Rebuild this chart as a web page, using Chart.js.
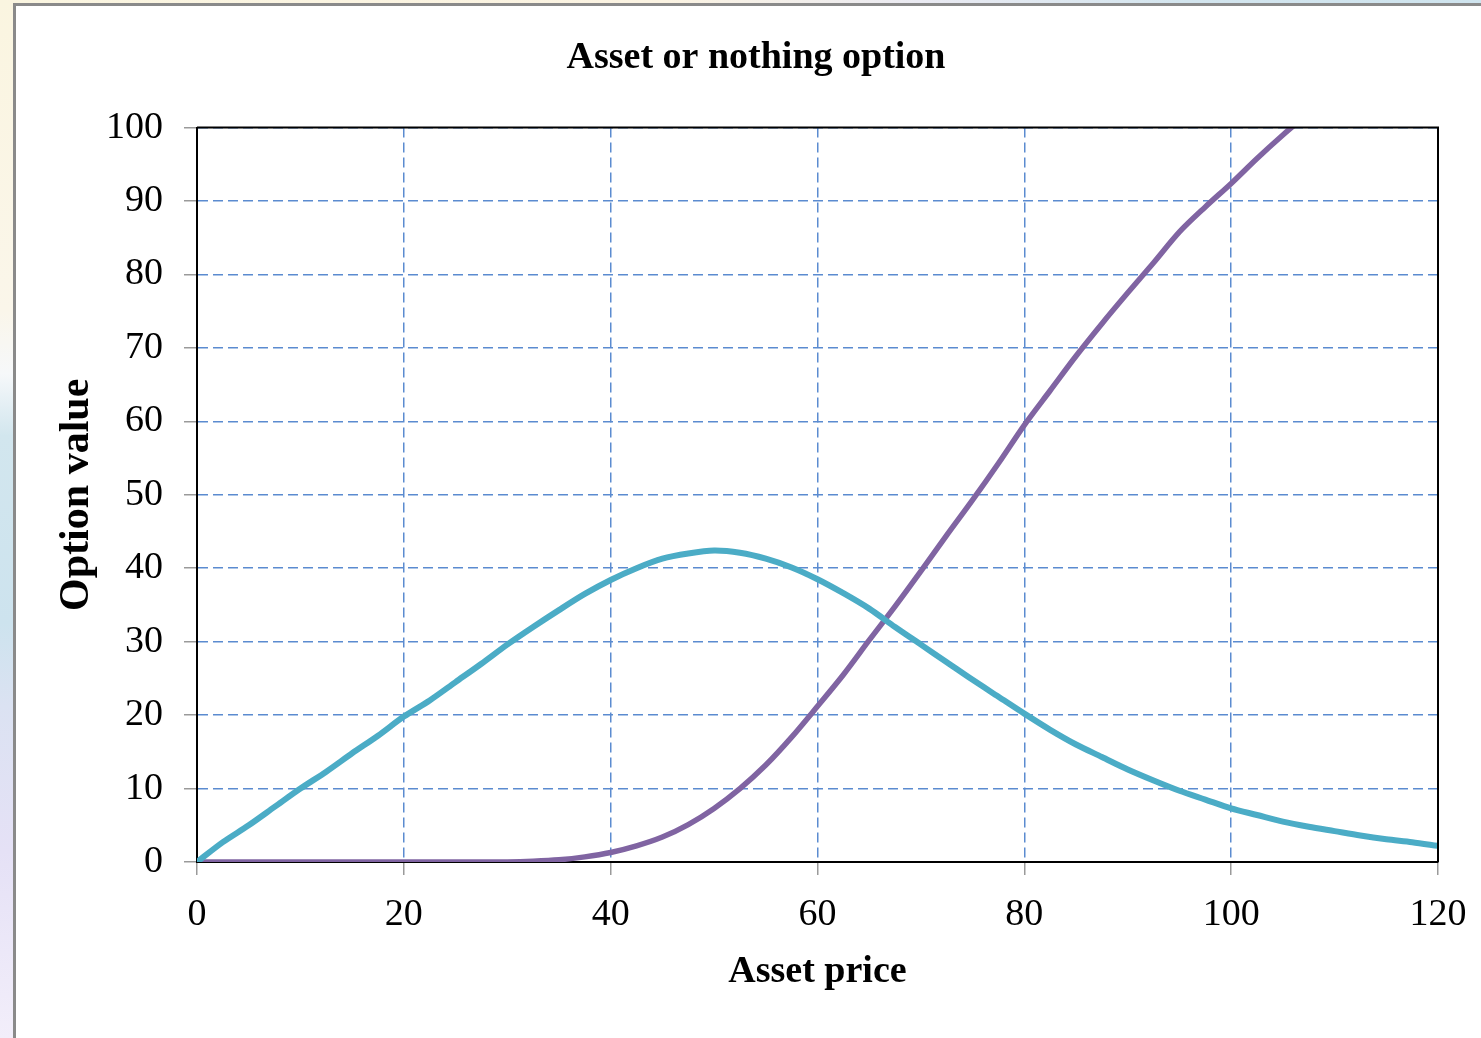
<!DOCTYPE html>
<html>
<head>
<meta charset="utf-8">
<script src="https://cdn.jsdelivr.net/npm/chart.js@4/dist/chart.umd.min.js"></script>
<style>
  html, body {
    margin: 0;
    width: 1481px;
    height: 1038px;
    overflow: hidden;
  }
  body {
    position: relative;
    background: linear-gradient(to bottom, #faf5e0 0%, #faf6ea 30%, #f6f8fa 36%, #d2e6ee 42%, #cde3ee 60%, #dbe2f2 68%, #e5e1f6 82%, #f2eefa 100%);
  }
  #topStrip {
    position: absolute;
    left: 0;
    top: 0;
    width: 1481px;
    height: 4px;
    background: linear-gradient(to right, #faf5e0 0%, #fbf3e2 45%, #eaeaf2 62%, #d3e5ee 80%, #cfe4ee 100%);
  }
  #frame {
    position: absolute;
    left: 13px;
    top: 3px;
    width: 1490px;
    height: 1060px;
    border: 3px solid #8a8a8a;
    background: #ffffff;
  }
  #chart {
    position: absolute;
    left: 0;
    top: 0;
  }
</style>
</head>
<body>
<div id="topStrip"></div>
<div id="frame"></div>
<canvas id="chart" width="1481" height="1038"></canvas>
<script>
// ASSET OR NOTHING OPTION

const assetPrice = [
  0, 2.5, 5, 7.5, 10, 12.5, 15, 17.5, 20, 22.5, 25, 27.5, 30, 32.5, 35, 37.5,
  40, 42.5, 45, 47.5, 50, 52.5, 55, 57.5, 60, 62.5, 65, 67.5, 70, 72.5, 75,
  77.5, 80, 82.5, 85, 87.5, 90, 92.5, 95, 97.5, 100, 102.5, 105, 107.5, 110,
  112.5, 115, 117.5, 120,
];

// option value (purple)
const optionValue = [
  0, 0, 0, 0, 0, 0, 0, 0, 0, 0, 0, 0, 0, 0.1, 0.3, 0.7,
  1.3, 2.2, 3.4, 5.1, 7.3, 10, 13.2, 17, 21.2, 25.5, 30.2, 34.8, 39.6, 44.5, 49.3,
  54.3, 59.5, 64.2, 68.9, 73.3, 77.5, 81.6, 85.8, 89.2, 92.4, 95.8, 99, 102, 105,
];

// scaled delta (teal)
const deltaCurve = [
  0, 2.7, 5, 7.5, 10, 12.3, 14.8, 17.2, 19.8, 22, 24.5, 27, 29.6, 32, 34.3, 36.5,
  38.4, 40, 41.3, 42, 42.4, 42.1, 41.3, 40.1, 38.5, 36.6, 34.5, 32, 29.6, 27.2, 24.8,
  22.5, 20.2, 18, 16, 14.3, 12.6, 11.1, 9.7, 8.5, 7.3, 6.4, 5.5, 4.8, 4.2,
  3.6, 3.1, 2.7, 2.2,
];

const xTicks = [0, 20, 40, 60, 80, 100, 120];
const yTicks = [0, 10, 20, 30, 40, 50, 60, 70, 80, 90, 100];

const toPoints = (ys) => ys.map((y, i) => ({ x: assetPrice[i], y: y }));

const serif = "'Liberation Serif', 'Times New Roman', serif";

// closes the plot box on the top and right sides
const plotFrame = {
  id: "plotFrame",
  afterDraw(chart) {
    const { ctx, chartArea } = chart;
    ctx.save();
    ctx.strokeStyle = "#000";
    ctx.lineWidth = 2;
    ctx.beginPath();
    ctx.moveTo(chartArea.left, chartArea.top);
    ctx.lineTo(chartArea.right, chartArea.top);
    ctx.lineTo(chartArea.right, chartArea.bottom);
    ctx.stroke();
    ctx.restore();
  },
};

const gridOpts = {
  color: "#5b8bd0",
  lineWidth: 1.5,
  tickColor: "#9a9a9a",
  tickLength: 13,
  tickWidth: 1.5,
};

new Chart(document.getElementById("chart"), {
  type: "line",
  data: {
    datasets: [
      {
        label: "Delta",
        data: toPoints(deltaCurve),
        borderColor: "#4bacc6",
        borderWidth: 6,
        pointRadius: 0,
        tension: 0.3,
      },
      {
        label: "Value",
        data: toPoints(optionValue),
        borderColor: "#8064a2",
        borderWidth: 5.5,
        pointRadius: 0,
        tension: 0.3,
      },
    ],
  },
  options: {
    responsive: false,
    animation: false,
    layout: {
      padding: { left: 74, right: 43, top: 0, bottom: 0 },
    },
    plugins: {
      legend: { display: false },
      tooltip: { enabled: false },
      title: {
        display: true,
        text: "Asset or nothing option",
        color: "#000",
        font: { family: serif, size: 38, weight: "bold", lineHeight: 1.2 },
        padding: { top: 35, bottom: 47 },
      },
    },
    scales: {
      x: {
        type: "linear",
        min: 0,
        max: 120,
        afterBuildTicks: (scale) => {
          scale.ticks = xTicks.map((v) => ({ value: v }));
        },
        afterFit: (scale) => {
          scale.height = 176;
          scale.paddingRight = 43;
        },
        ticks: {
          color: "#000",
          padding: 17,
          maxRotation: 0,
          font: { family: serif, size: 38 },
        },
        grid: gridOpts,
        border: { color: "#000", width: 2, dash: [10, 5] },
        title: {
          display: true,
          text: "Asset price",
          color: "#000",
          font: { family: serif, size: 38, weight: "bold", lineHeight: 1.2 },
          padding: { top: 0, bottom: 43 },
        },
      },
      y: {
        min: 0,
        max: 100,
        afterBuildTicks: (scale) => {
          scale.ticks = yTicks.map((v) => ({ value: v }));
        },
        afterFit: (scale) => {
          scale.width = 123;
        },
        ticks: {
          color: "#000",
          padding: 21,
          font: { family: serif, size: 38 },
        },
        grid: gridOpts,
        border: { color: "#000", width: 2, dash: [10, 5] },
        title: {
          display: true,
          text: "Option value",
          color: "#000",
          font: { family: serif, size: 42, weight: "bold", lineHeight: 1.2 },
          padding: { top: -22, bottom: 0 },
        },
      },
    },
  },
  plugins: [plotFrame],
});
</script>
</body>
</html>
